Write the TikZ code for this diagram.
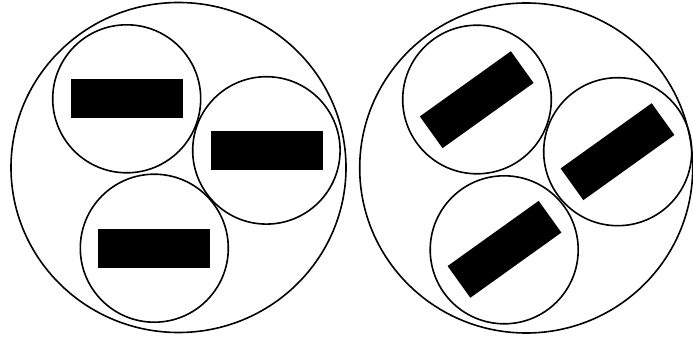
\documentclass[tikz,border=0pt]{standalone}
\begin{document}
\begin{tikzpicture}[x=1pt,y=-1pt,
  ring/.style={draw=black,line width=1.6pt},
  bar/.style={fill=black,draw=none,minimum width=112pt,minimum height=39pt,inner sep=0pt,outer sep=0pt}]
\useasboundingbox (0,0) rectangle (693,339);
% left panel
\draw[ring] (178.5,167.5) ellipse [x radius=167.5, y radius=165];
\draw[ring] (126.7,98.8) circle (74);
\draw[ring] (266.4,150.4) circle (73.7);
\draw[ring] (154.3,248.2) circle (74);
\node[bar] (l1) at (126.7,99) {};
\node[bar] (l2) at (266.5,150.8) {};
\node[bar] (l3) at (154.2,248.2) {};
% right panel
\draw[ring] (526.2,168) ellipse [x radius=166.5, y radius=165];
\draw[ring] (477,99.5) circle (74.3);
\draw[ring] (617.7,151.7) circle (74);
\draw[ring] (504.2,249.8) circle (74);
\node[bar,rotate=35.6] (r1) at (476.7,99.7) {};
\node[bar,rotate=35.6] (r2) at (617.5,151.7) {};
\node[bar,rotate=35.6] (r3) at (504.5,249.3) {};
\end{tikzpicture}
\end{document}
